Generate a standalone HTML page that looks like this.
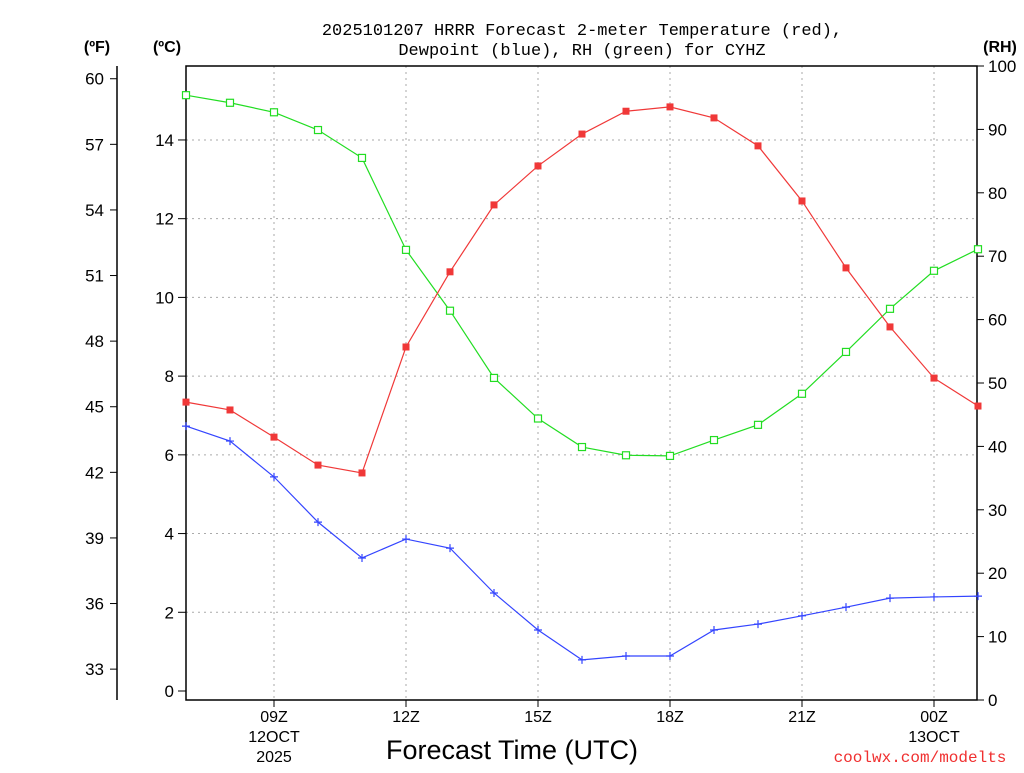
<!DOCTYPE html>
<html><head><meta charset="utf-8"><style>
body{margin:0;background:#fff;}
svg text{font-family:"Liberation Sans","DejaVu Sans",sans-serif;}
</style></head><body>
<svg id="chart" width="1024" height="768" xmlns="http://www.w3.org/2000/svg">
<g id="grid"></g>
<g id="axes"></g>
<g id="series"></g>
<text x="582" y="35" font-size="17" text-anchor="middle" style="font-family:'Liberation Mono',monospace">2025101207 HRRR Forecast 2-meter Temperature (red),</text>
<text x="582" y="55" font-size="17" text-anchor="middle" style="font-family:'Liberation Mono',monospace">Dewpoint (blue), RH (green) for CYHZ</text>
<text x="97" y="52" font-size="16" font-weight="bold" text-anchor="middle">(ºF)</text>
<text x="167" y="52" font-size="16" font-weight="bold" text-anchor="middle">(ºC)</text>
<text x="1000" y="52" font-size="16" font-weight="bold" text-anchor="middle">(RH)</text>
<text x="512" y="759" font-size="27" text-anchor="middle">Forecast Time (UTC)</text>
<text x="920" y="762" font-size="16" fill="#f03030" text-anchor="middle" style="font-family:'Liberation Mono',monospace">coolwx.com/modelts</text>
</svg>
<script>
const hours=[7,8,9,10,11,12,13,14,15,16,17,18,19,20,21,22,23,24,25];
const tempC=[7.34,7.14,6.45,5.74,5.54,8.74,10.65,12.35,13.34,14.15,14.73,14.84,14.56,13.85,12.45,10.75,9.25,7.95,7.24];
const dewC=[6.73,6.35,5.44,4.29,3.38,3.86,3.63,2.49,1.55,0.79,0.89,0.89,1.55,1.70,1.91,2.13,2.36,2.39,2.41];
const rh=[95.4,94.2,92.7,89.9,85.5,71.0,61.4,50.8,44.4,39.9,38.6,38.5,41.0,43.4,48.3,54.9,61.7,67.7,71.1];
const cTicks=[0,2,4,6,8,10,12,14];
const fTicks=[33,36,39,42,45,48,51,54,57,60];
const rhTicks=[0,10,20,30,40,50,60,70,80,90,100];
const xTickHours=[9,12,15,18,21,24];
const xTickLabels=["09Z","12Z","15Z","18Z","21Z","00Z"];
const xSubLabels={9:["12OCT","2025"],24:["13OCT"]};

const L=186,R=977,T=66,B=700;
const xs=h=>L+(h-7)*44;
const yC=c=>691-c*39.36;
const yF=f=>yC((f-32)*5/9);
const yRH=r=>700-r*6.34;
const NS="http://www.w3.org/2000/svg";
function mk(parent,tag,attrs){const e=document.createElementNS(NS,tag);for(const k in attrs)e.setAttribute(k,attrs[k]);document.getElementById(parent).appendChild(e);return e;}

cTicks.forEach(c=>{if(c===0)return;const g=mk('grid','line',{x1:L,x2:R,y1:yC(c),y2:yC(c),stroke:'#aaa','stroke-dasharray':'2,4'});

});
xTickHours.forEach(h=>{const g=mk('grid','line',{x1:xs(h),x2:xs(h),y1:T,y2:B,stroke:'#aaa','stroke-dasharray':'2,4'});

});

const box=mk('axes','rect',{x:L,y:T,width:R-L,height:B-T,fill:'none',stroke:'#000','stroke-width':1.5});


const fl=mk('axes','line',{x1:117,x2:117,y1:T,y2:B,stroke:'#000','stroke-width':1.5});



cTicks.forEach(c=>{const y=yC(c);mk('axes','line',{x1:L-8,x2:L,y1:y,y2:y,stroke:'#000'});
const t=mk('axes','text',{x:174,y:y+6,'font-size':17,'text-anchor':'end'});t.textContent=c;

});
fTicks.forEach(f=>{const y=yF(f);mk('axes','line',{x1:110,x2:117,y1:y,y2:y,stroke:'#000'});
const t=mk('axes','text',{x:104,y:y+6,'font-size':17,'text-anchor':'end'});t.textContent=f;

});
rhTicks.forEach(r=>{const y=yRH(r);mk('axes','line',{x1:R,x2:R+7,y1:y,y2:y,stroke:'#000'});
const t=mk('axes','text',{x:988,y:y+6,'font-size':17});t.textContent=r;

});
xTickHours.forEach((h,i)=>{const x=xs(h);mk('axes','line',{x1:x,x2:x,y1:B,y2:B+7,stroke:'#000'});
const t=mk('axes','text',{x:x,y:722,'font-size':16,'text-anchor':'middle'});t.textContent=xTickLabels[i];


(xSubLabels[h]||[]).forEach((s,j)=>{const u=mk('axes','text',{x:x,y:742+j*20,'font-size':16,'text-anchor':'middle'});u.textContent=s;

});});

function series(vals,yf,color,marker,name){
 const pts=vals.map((v,i)=>[xs(hours[i]),yf(v)]);
 const p=mk('series','polyline',{points:pts.map(p=>p.join(',')).join(' '),fill:'none',stroke:color,'stroke-width':1.2});
 
 
 pts.forEach(([x,y])=>{let m;
  if(marker==='fill')m=mk('series','rect',{x:x-3.5,y:y-3.5,width:7,height:7,fill:color});
  else if(marker==='open')m=mk('series','rect',{x:x-3.5,y:y-3.5,width:7,height:7,fill:'#fff',stroke:color,'stroke-width':1.2});
  else m=mk('series','path',{d:`M${x-4},${y}H${x+4}M${x},${y-4}V${y+4}`,stroke:color,'stroke-width':1.2});
  
  });
}
series(rh,yRH,'#22dd22','open','rh');
series(tempC,yC,'#f03838','fill','temperature');
series(dewC,yC,'#3344ff','plus','dewpoint');
</script>
</body></html>
